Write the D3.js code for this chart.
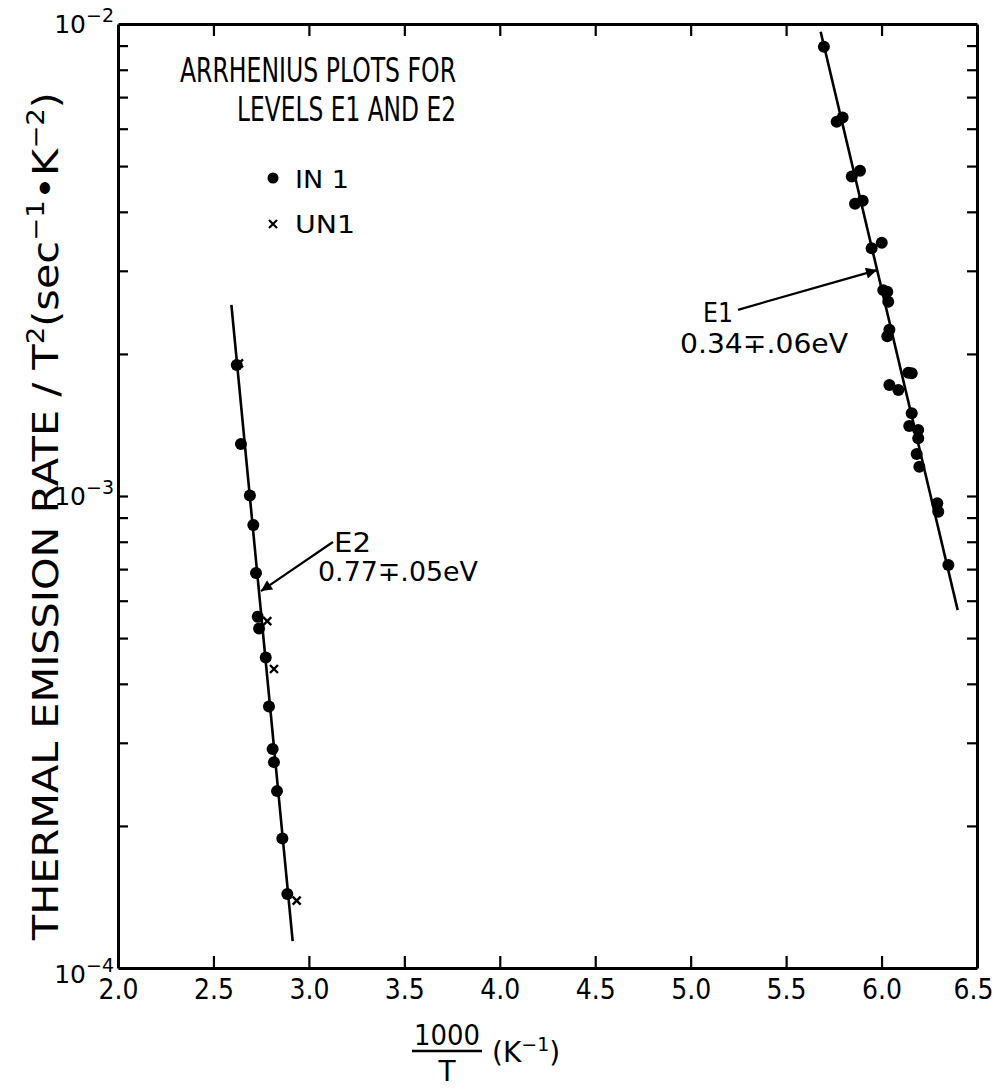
<!DOCTYPE html>
<html>
<head>
<meta charset="utf-8">
<script src="https://cdn.jsdelivr.net/npm/d3@7"></script>
<style>
  html, body { margin: 0; padding: 0; background: #fff; }
  svg { display: block; }
  text { font-family: "DejaVu Sans", sans-serif; fill: #000; }
</style>
</head>
<body>
<script>
// Arrhenius plots for deep levels E1 and E2 (emission rate / T^2 vs 1000/T)

// Level E2, sample IN1 (dots): [1000/T, rate/T^2]
const e2In1 = [
  [2.622, 1.895e-3], [2.644, 1.289e-3], [2.691, 1.003e-3], [2.709, 8.68e-4],
  [2.723, 6.87e-4], [2.732, 5.55e-4], [2.739, 5.24e-4], [2.774, 4.55e-4],
  [2.791, 3.58e-4], [2.810, 2.91e-4], [2.817, 2.73e-4], [2.833, 2.37e-4],
  [2.861, 1.88e-4], [2.887, 1.435e-4]
];
// Level E2, sample UN1 (crosses)
const e2Un1 = [
  [2.634, 1.91e-3], [2.782, 5.43e-4], [2.817, 4.30e-4], [2.936, 1.389e-4]
];
// Level E1, sample IN1 (dots)
const e1In1 = [
  [5.698, 8.95e-3], [5.765, 6.21e-3], [5.796, 6.34e-3], [5.844, 4.75e-3],
  [5.887, 4.89e-3], [5.861, 4.16e-3], [5.901, 4.22e-3], [5.948, 3.35e-3],
  [6.001, 3.44e-3], [6.009, 2.73e-3], [6.030, 2.71e-3], [6.035, 2.58e-3],
  [6.041, 2.25e-3], [6.030, 2.18e-3], [6.140, 1.825e-3], [6.158, 1.82e-3],
  [6.041, 1.718e-3], [6.088, 1.677e-3], [6.158, 1.497e-3], [6.145, 1.407e-3],
  [6.192, 1.38e-3], [6.192, 1.325e-3], [6.184, 1.227e-3], [6.198, 1.154e-3],
  [6.292, 9.65e-4], [6.297, 9.26e-4], [6.350, 7.14e-4]
];
// Least-squares fit lines (end points)
const e2Fit = [[2.594, 2.54e-3], [2.915, 1.14e-4]];
const e1Fit = [[5.681, 9.63e-3], [6.399, 5.73e-4]];

// Axis ticks
const xTicks = [2.0, 2.5, 3.0, 3.5, 4.0, 4.5, 5.0, 5.5, 6.0, 6.5];
const xTickLabels = ["2.0", "2.5", "3.0", "3.5", "4.0", "4.5", "5.0", "5.5", "6.0", "6.5"];
const yMajor = [1e-4, 1e-3, 1e-2];
const yMajorExp = ["-4", "-3", "-2"];
const yMinorMult = [2, 3, 4, 5, 6, 7, 8, 9];

// Activation energies
const e2Label = ["E2", "0.77\u2213.05eV"];
const e1Label = ["E1", "0.34\u2213.06eV"];

const W = 1000, H = 1088;
const svg = d3.select("body").append("svg").attr("width", W).attr("height", H);

const x = d3.scaleLinear().domain([2, 6.5]).range([118, 977]);
const y = d3.scaleLog().domain([1e-4, 1e-2]).range([968, 24]);

const yTicksAll = [];
[1e-4, 1e-3].forEach(d => yMinorMult.forEach(m => yTicksAll.push(d * m)));
yTicksAll.push(1e-3);

function styleAxis(g) {
  g.selectAll(".domain").attr("stroke", "#000").attr("stroke-width", 3);
  g.selectAll(".tick line").attr("stroke", "#000").attr("stroke-width", 2.2);
}

// bottom axis with inward ticks
svg.append("g").attr("transform", `translate(0,${y.range()[0]})`)
  .call(d3.axisBottom(x).tickValues(xTicks).tickSizeInner(-12).tickSizeOuter(0)
    .tickPadding(8).tickFormat((d, i) => xTickLabels[i]))
  .call(styleAxis)
  .call(g => g.selectAll(".tick text").attr("font-size", 29).attr("dy", "0.8em")
    .attr("textLength", 40).attr("lengthAdjust", "spacingAndGlyphs")
    .attr("dx", (d, i) => i === xTicks.length - 1 ? -4 : 0));

// top axis
svg.append("g").attr("transform", `translate(0,${y.range()[1]})`)
  .call(d3.axisTop(x).tickValues(xTicks.slice(1, -1)).tickSizeInner(-12).tickSizeOuter(0).tickFormat(""))
  .call(styleAxis);

// left axis
svg.append("g").attr("transform", `translate(${x.range()[0]},0)`)
  .call(d3.axisLeft(y).tickValues(yTicksAll).tickSizeInner(-10).tickSizeOuter(0).tickFormat(""))
  .call(styleAxis);

// right axis
svg.append("g").attr("transform", `translate(${x.range()[1]},0)`)
  .call(d3.axisRight(y).tickValues(yTicksAll).tickSizeInner(-10).tickSizeOuter(0).tickFormat(""))
  .call(styleAxis);

// decade labels 10^n
const decadeDy = [15, 9, 9];
yMajor.forEach((v, i) => {
  const t = svg.append("text")
    .attr("x", x.range()[0] - 4)
    .attr("y", y(v) + decadeDy[i])
    .attr("text-anchor", "end")
    .attr("font-size", 25);
  t.append("tspan").text("10");
  t.append("tspan").attr("dy", -11).attr("font-size", 19).text(yMajorExp[i].replace("-", "\u2212"));
});

// fit lines
const line = d3.line().x(d => x(d[0])).y(d => y(d[1]));
[e2Fit, e1Fit].forEach(f => {
  svg.append("path").attr("d", line(f)).attr("fill", "none")
    .attr("stroke", "#000").attr("stroke-width", 2.6);
});

// IN1 dots
svg.append("g").selectAll("circle").data(e2In1.concat(e1In1)).join("circle")
  .attr("cx", d => x(d[0])).attr("cy", d => y(d[1])).attr("r", 6).attr("fill", "#000");

// UN1 crosses
const cs = 4;
svg.append("g").selectAll("path").data(e2Un1).join("path")
  .attr("d", d => {
    const cx = x(d[0]), cy = y(d[1]);
    return `M${cx - cs},${cy - cs}L${cx + cs},${cy + cs}M${cx - cs},${cy + cs}L${cx + cs},${cy - cs}`;
  })
  .attr("stroke", "#000").attr("stroke-width", 2.4);

// arrows
svg.append("defs").append("marker").attr("id", "ah").attr("viewBox", "0 0 10 10")
  .attr("refX", 10).attr("refY", 5).attr("markerWidth", 6).attr("markerHeight", 5)
  .attr("markerUnits", "strokeWidth").attr("orient", "auto")
  .append("path").attr("d", "M0,0L10,5L0,10z").attr("fill", "#000");

const e2Arrow = [[3.126, 7.99e-4], [2.749, 6.29e-4]];
const e1Arrow = [[5.248, 2.48e-3], [5.976, 3.01e-3]];
[e2Arrow, e1Arrow].forEach(a => {
  svg.append("path").attr("d", line(a)).attr("fill", "none")
    .attr("stroke", "#000").attr("stroke-width", 2.2).attr("marker-end", "url(#ah)");
});

// annotation texts
svg.append("text").attr("x", 334).attr("y", 552).attr("font-size", 27)
  .attr("textLength", 37).attr("lengthAdjust", "spacingAndGlyphs").text(e2Label[0]);
svg.append("text").attr("x", 318).attr("y", 581).attr("font-size", 27)
  .attr("textLength", 160).attr("lengthAdjust", "spacingAndGlyphs").text(e2Label[1]);
svg.append("text").attr("x", 703).attr("y", 322).attr("font-size", 27)
  .attr("textLength", 30).attr("lengthAdjust", "spacingAndGlyphs").text(e1Label[0]);
svg.append("text").attr("x", 680).attr("y", 353).attr("font-size", 27)
  .attr("textLength", 168).attr("lengthAdjust", "spacingAndGlyphs").text(e1Label[1]);

// title
svg.append("text").attr("x", 180).attr("y", 82).attr("font-size", 33)
  .attr("textLength", 276).attr("lengthAdjust", "spacingAndGlyphs").text("ARRHENIUS PLOTS FOR");
svg.append("text").attr("x", 237).attr("y", 121).attr("font-size", 33)
  .attr("textLength", 219).attr("lengthAdjust", "spacingAndGlyphs").text("LEVELS E1 AND E2");

// legend
svg.append("circle").attr("cx", 273).attr("cy", 178).attr("r", 5.5).attr("fill", "#000");
svg.append("text").attr("x", 295).attr("y", 188).attr("font-size", 24)
  .attr("textLength", 54).attr("lengthAdjust", "spacingAndGlyphs").text("IN 1");
svg.append("path")
  .attr("d", `M269,220L277,228M269,228L277,220`).attr("stroke", "#000").attr("stroke-width", 2.2);
svg.append("text").attr("x", 295).attr("y", 233).attr("font-size", 24)
  .attr("textLength", 60).attr("lengthAdjust", "spacingAndGlyphs").text("UN1");

// y axis title
const yt = svg.append("text")
  .attr("transform", "translate(58,940) rotate(-90)")
  .attr("font-size", 36)
  .attr("textLength", 848).attr("lengthAdjust", "spacingAndGlyphs");
yt.append("tspan").text("THERMAL  EMISSION RATE / T");
yt.append("tspan").attr("dy", -14).attr("font-size", 24).text("2");
yt.append("tspan").attr("dy", 14).text("(sec");
yt.append("tspan").attr("dy", -14).attr("font-size", 24).text("\u22121");
yt.append("tspan").attr("dy", 14).text("\u2022K");
yt.append("tspan").attr("dy", -14).attr("font-size", 24).text("\u22122");
yt.append("tspan").attr("dy", 14).text(")");

// x axis title: 1000/T (K^-1)
const xc = 447;
svg.append("text").attr("x", xc).attr("y", 1045).attr("text-anchor", "middle")
  .attr("font-size", 28).attr("textLength", 66).attr("lengthAdjust", "spacingAndGlyphs").text("1000");
svg.append("line").attr("x1", xc - 35).attr("x2", xc + 35).attr("y1", 1051).attr("y2", 1051)
  .attr("stroke", "#000").attr("stroke-width", 2.5);
svg.append("text").attr("x", xc).attr("y", 1081).attr("text-anchor", "middle")
  .attr("font-size", 28).text("T");
const xl = svg.append("text").attr("x", 492).attr("y", 1062).attr("font-size", 28);
xl.append("tspan").text("(K");
xl.append("tspan").attr("dy", -11).attr("font-size", 19).text("\u22121");
xl.append("tspan").attr("dy", 11).text(")");
</script>
</body>
</html>
